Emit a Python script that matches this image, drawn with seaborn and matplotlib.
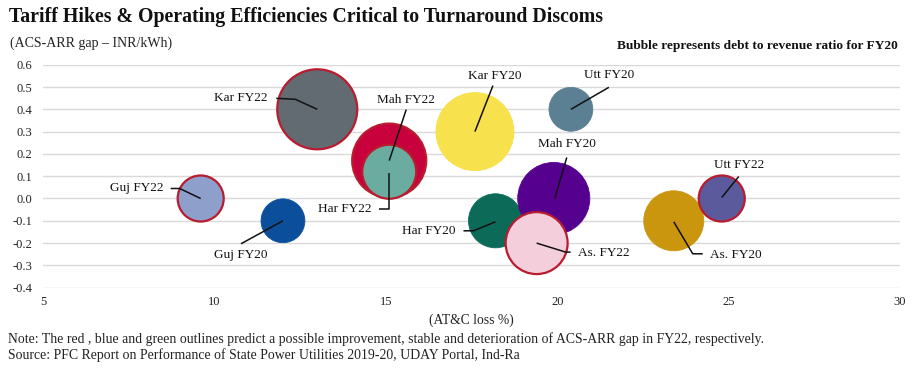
import numpy as np
import pandas as pd
import matplotlib
matplotlib.use("Agg")
import matplotlib.pyplot as plt
import seaborn as sns

# ---- data ----
labels = ["Kar FY20", "Har FY20", "Mah FY20", "As. FY22", "Kar FY22", "Mah FY22",
          "Har FY22", "Utt FY20", "As. FY20", "Utt FY22", "Guj FY22", "Guj FY20"]
atc_loss = [17.6, 18.2, 19.9, 19.4, 13.0, 15.1, 15.1, 20.4, 23.4, 24.8, 9.6, 12.0]
acs_arr_gap = [0.30, -0.10, 0.00, -0.20, 0.40, 0.17, 0.12, 0.40, -0.10, 0.00, 0.00, -0.10]
debt_ratio = [152, 73, 130, 96, 160, 137, 73, 48, 90, 53, 53, 48]
fill_colors = ["#F7E14C", "#0B6B58", "#560090", "#F5CEDB", "#636B72", "#C8003C",
               "#6AADA0", "#5B7F93", "#C9960E", "#5A5A9C", "#8E9FCB", "#0B4F9C"]
outline = ["none", "none", "none", "red", "red", "red",
           "red", "none", "none", "red", "red", "none"]
x_ticks = [5, 10, 15, 20, 25, 30]
y_ticks = [-0.4, -0.3, -0.2, -0.1, 0.0, 0.1, 0.2, 0.3, 0.4, 0.5, 0.6]

# label layout (pixel offsets from bubble centre: dx right, dy down)
label_layout = {
    "Kar FY22": dict(text=(-50, -11), ha="right", line=[(-41, -11), (-22, -10), (0, 0)]),
    "Mah FY22": dict(text=(17, -61), ha="center", line=[(17, -51), (0, 0)]),
    "Har FY22": dict(text=(-18, 37), ha="right", line=[(-10, 37), (0, 37), (0, 1)]),
    "Kar FY20": dict(text=(20, -56), ha="center", line=[(18, -46), (0, 0)]),
    "Utt FY20": dict(text=(38, -34), ha="center", line=[(38, -22), (0, 0)]),
    "Mah FY20": dict(text=(13, -54), ha="center", line=[(13, -41), (1, 0)]),
    "Har FY20": dict(text=(-40, 10), ha="right", line=[(-32, 10), (-22, 10), (0, 1)]),
    "As. FY22": dict(text=(41, 10), ha="left", line=[(0, 0), (29, 9), (34, 9)]),
    "As. FY20": dict(text=(36, 34), ha="left", line=[(0, 1), (19, 33), (29, 33)]),
    "Utt FY22": dict(text=(17, -33), ha="center", line=[(17, -22), (0, -1)]),
    "Guj FY22": dict(text=(-37, -10), ha="right", line=[(-30, -10), (-21, -10), (0, 0)]),
    "Guj FY20": dict(text=(-42, 34), ha="center", line=[(-42, 23), (0, 0)]),
}

df = pd.DataFrame({"label": labels, "atc": atc_loss, "gap": acs_arr_gap, "debt": debt_ratio})

sns.set_theme(style="white")
plt.rcParams["font.family"] = ["Liberation Serif", "DejaVu Serif"]

W, H, DPI = 922, 371, 100
fig = plt.figure(figsize=(W / DPI, H / DPI), dpi=DPI)
ax_l, ax_r, ax_t, ax_b = 43, 900, 64.7, 287.7
ax = fig.add_axes([ax_l / W, 1 - ax_b / H, (ax_r - ax_l) / W, (ax_b - ax_t) / H])

xmin, xmax, ymin, ymax = 5, 30, -0.4, 0.6
ax.set_xlim(xmin, xmax)
ax.set_ylim(ymin, ymax)

# gridlines
for yv in y_ticks:
    ax.axhline(yv, color="#D9D9D9", lw=1.0, zorder=0)

# bubble size: area proportional to debt ratio; largest radius ~40 px
rmax_px = 40
smax = (2 * rmax_px * 72 / DPI) ** 2
palette = dict(zip(labels, fill_colors))
sns.scatterplot(data=df, x="atc", y="gap", hue="label", palette=palette,
                size="debt", sizes=(0, smax), size_norm=(0, max(debt_ratio)),
                legend=False, ax=ax, linewidth=1.5, alpha=1, zorder=3)
coll = ax.collections[-1]
edge_map = {"red": "#B81C2E"}
edges = [edge_map.get(o, c) if o != "none" else c for o, c in zip(outline, fill_colors)]
coll.set_edgecolors(edges)
lws = [1.6 if o != "none" else 0.6 for o in outline]
coll.set_linewidths(lws)

# px -> data scale
sx = (xmax - xmin) / (ax_r - ax_l)
sy = (ymax - ymin) / (ax_b - ax_t)
for lab, xv, yv in zip(labels, atc_loss, acs_arr_gap):
    lay = label_layout[lab]
    pts = lay["line"]
    ax.plot([xv + dx * sx for dx, dy in pts], [yv - dy * sy for dx, dy in pts],
            color="#111111", lw=1.1, zorder=4, solid_capstyle="butt")
    tdx, tdy = lay["text"]
    ax.text(xv + tdx * sx, yv - tdy * sy, lab, ha=lay["ha"], va="center",
            fontsize=9.5, color="#111111", zorder=5)

for s in ax.spines.values():
    s.set_visible(False)
ax.set_xticks(x_ticks)
ax.set_xticklabels([str(v) for v in x_ticks])
ax.set_yticks(y_ticks)
ax.set_yticklabels([f"{v:.1f}" for v in y_ticks])
ax.tick_params(axis="both", length=0, labelsize=9, colors="#222222")
ax.tick_params(axis="y", pad=7.5)
ax.tick_params(axis="x", pad=6)
ax.set_xlabel("(AT&C loss %)", fontsize=9.8, labelpad=4, color="#222222")
ax.set_ylabel("")

fig.text(9 / W, 1 - 17 / H, "Tariff Hikes & Operating Efficiencies Critical to Turnaround Discoms",
         fontsize=14.3, fontweight="bold", ha="left", va="center", color="#111111")
fig.text(10 / W, 1 - 43 / H, "(ACS-ARR gap \u2013 INR/kWh)", fontsize=10,
         ha="left", va="center", color="#222222")
fig.text(898 / W, 1 - 46 / H, "Bubble represents debt to revenue ratio for FY20", fontsize=9.6,
         fontweight="bold", ha="right", va="center", color="#111111")
fig.text(8 / W, 1 - 339 / H,
         "Note: The red , blue and green outlines predict a possible improvement, stable and deterioration of ACS-ARR gap in FY22, respectively.",
         fontsize=9.9, ha="left", va="center", color="#222222")
fig.text(8 / W, 1 - 355 / H,
         "Source: PFC Report on Performance of State Power Utilities 2019-20, UDAY Portal, Ind-Ra",
         fontsize=9.9, ha="left", va="center", color="#222222")

fig.savefig("out.png", dpi=DPI, facecolor="white")
